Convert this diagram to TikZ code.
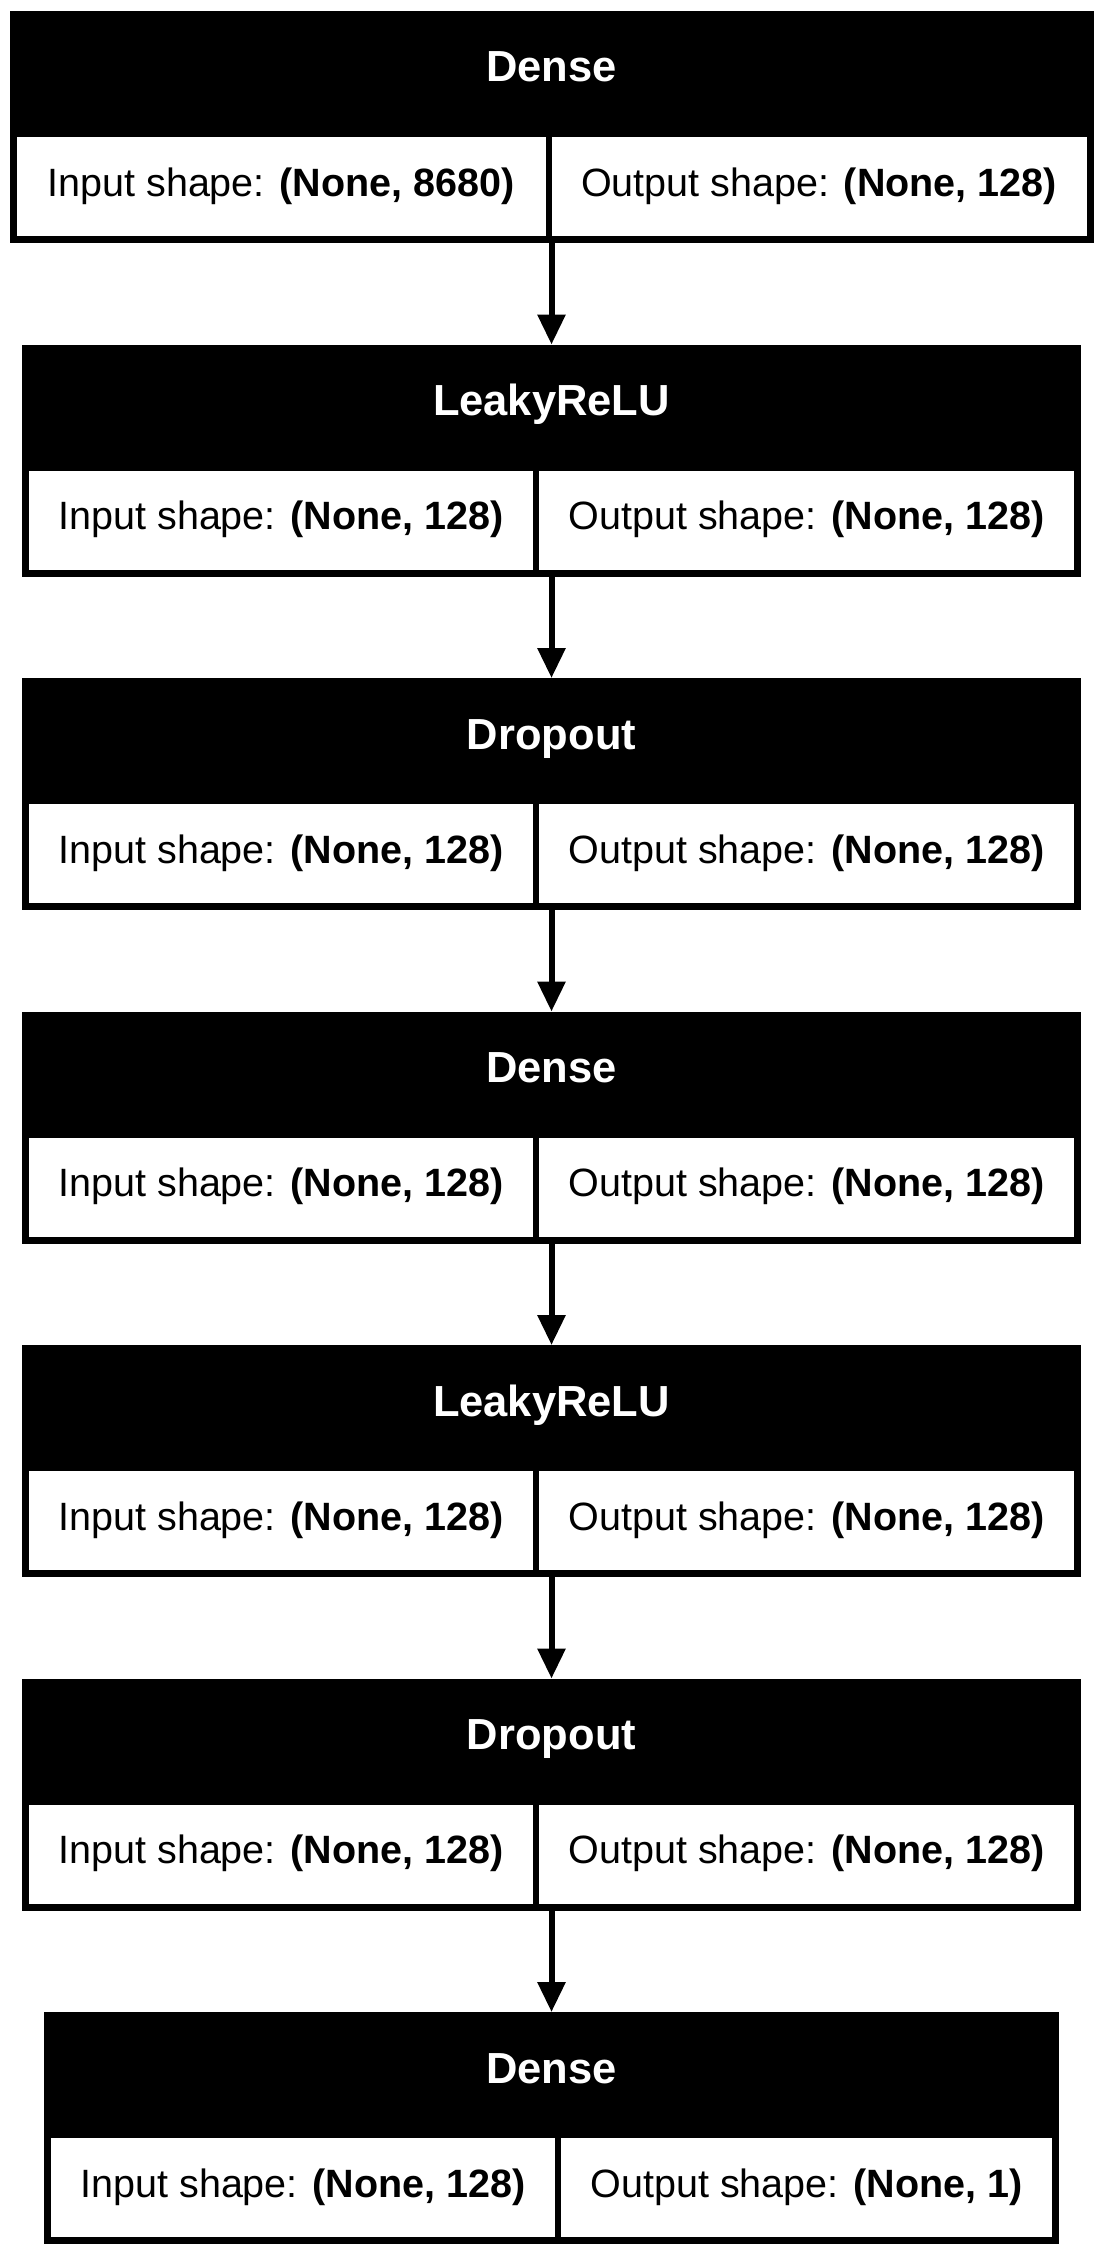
\documentclass[tikz,border=0pt]{standalone}
\usepackage{fontspec}
\setmainfont{Liberation Sans}
\usetikzlibrary{arrows.meta}
\newcommand\kcellfont{\fontsize{39.5pt}{47pt}\selectfont}
\newcommand\khdrfont{\fontsize{43.5pt}{52pt}\selectfont\bfseries}
\tikzset{
  outerbox/.style={draw=none, fill=black, anchor=north west, inner sep=0pt, outer sep=0pt, minimum height=232pt},
  cellbox/.style={draw=none, fill=white, anchor=north west, inner sep=0pt, outer sep=0pt, minimum height=99pt},
  hdr/.style={text=white, font=\khdrfont, anchor=base, inner sep=0pt},
  celltxt/.style={text=black, font=\kcellfont, anchor=base, inner sep=0pt},
  conn/.style={line width=6pt, -{Triangle[length=30pt,width=27pt]}}
}
\newcommand\kerasbox[8]{%
  \pgfmathsetmacro\kW{#4+#5+20}%
  \pgfmathsetmacro\kLx{#3+7}%
  \pgfmathsetmacro\kRx{#3+7+#4+6}%
  \pgfmathsetmacro\kLc{#3+7+#4/2}%
  \pgfmathsetmacro\kRc{#3+7+#4+6+#5/2}%
  \pgfmathsetmacro\kCx{#3+\kW/2}%
  \pgfmathsetmacro\kCy{#2+126}%
  \pgfmathsetmacro\kHb{#2+71}%
  \pgfmathsetmacro\kTb{#2+185}%
  \node[outerbox, minimum width=\kW pt] (#1) at (#3,#2) {};
  \node[cellbox, minimum width=#4pt] (#1l) at (\kLx,\kCy) {};
  \node[cellbox, minimum width=#5pt] (#1r) at (\kRx,\kCy) {};
  \node[hdr] (#1t) at (\kCx,\kHb) {#6};
  \node[celltxt] (#1lt) at (\kLc,\kTb) {#7};
  \node[celltxt] (#1rt) at (\kRc,\kTb) {#8};
}
\begin{document}
\begin{tikzpicture}[x=1pt,y=-1pt]
  \fill[white] (0,0) rectangle (1103,2256);
  \useasboundingbox (0,0) rectangle (1103,2256);
  \kerasbox{b1}{11}{9.5}{529}{535}{Dense}{Input shape: \textbf{(None, 8680)}}{Output shape: \textbf{(None, 128)}}
  \kerasbox{b2}{344.5}{22}{504}{535}{LeakyReLU}{Input shape: \textbf{(None, 128)}}{Output shape: \textbf{(None, 128)}}
  \kerasbox{b3}{678}{22}{504}{535}{Dropout}{Input shape: \textbf{(None, 128)}}{Output shape: \textbf{(None, 128)}}
  \kerasbox{b4}{1011.5}{22}{504}{535}{Dense}{Input shape: \textbf{(None, 128)}}{Output shape: \textbf{(None, 128)}}
  \kerasbox{b5}{1345}{22}{504}{535}{LeakyReLU}{Input shape: \textbf{(None, 128)}}{Output shape: \textbf{(None, 128)}}
  \kerasbox{b6}{1678.5}{22}{504}{535}{Dropout}{Input shape: \textbf{(None, 128)}}{Output shape: \textbf{(None, 128)}}
  \kerasbox{b7}{2012}{44}{504}{491}{Dense}{Input shape: \textbf{(None, 128)}}{Output shape: \textbf{(None, 1)}}
  \draw[conn] (b1.south) -- (b2.north);
  \draw[conn] (b2.south) -- (b3.north);
  \draw[conn] (b3.south) -- (b4.north);
  \draw[conn] (b4.south) -- (b5.north);
  \draw[conn] (b5.south) -- (b6.north);
  \draw[conn] (b6.south) -- (b7.north);
\end{tikzpicture}
\end{document}
